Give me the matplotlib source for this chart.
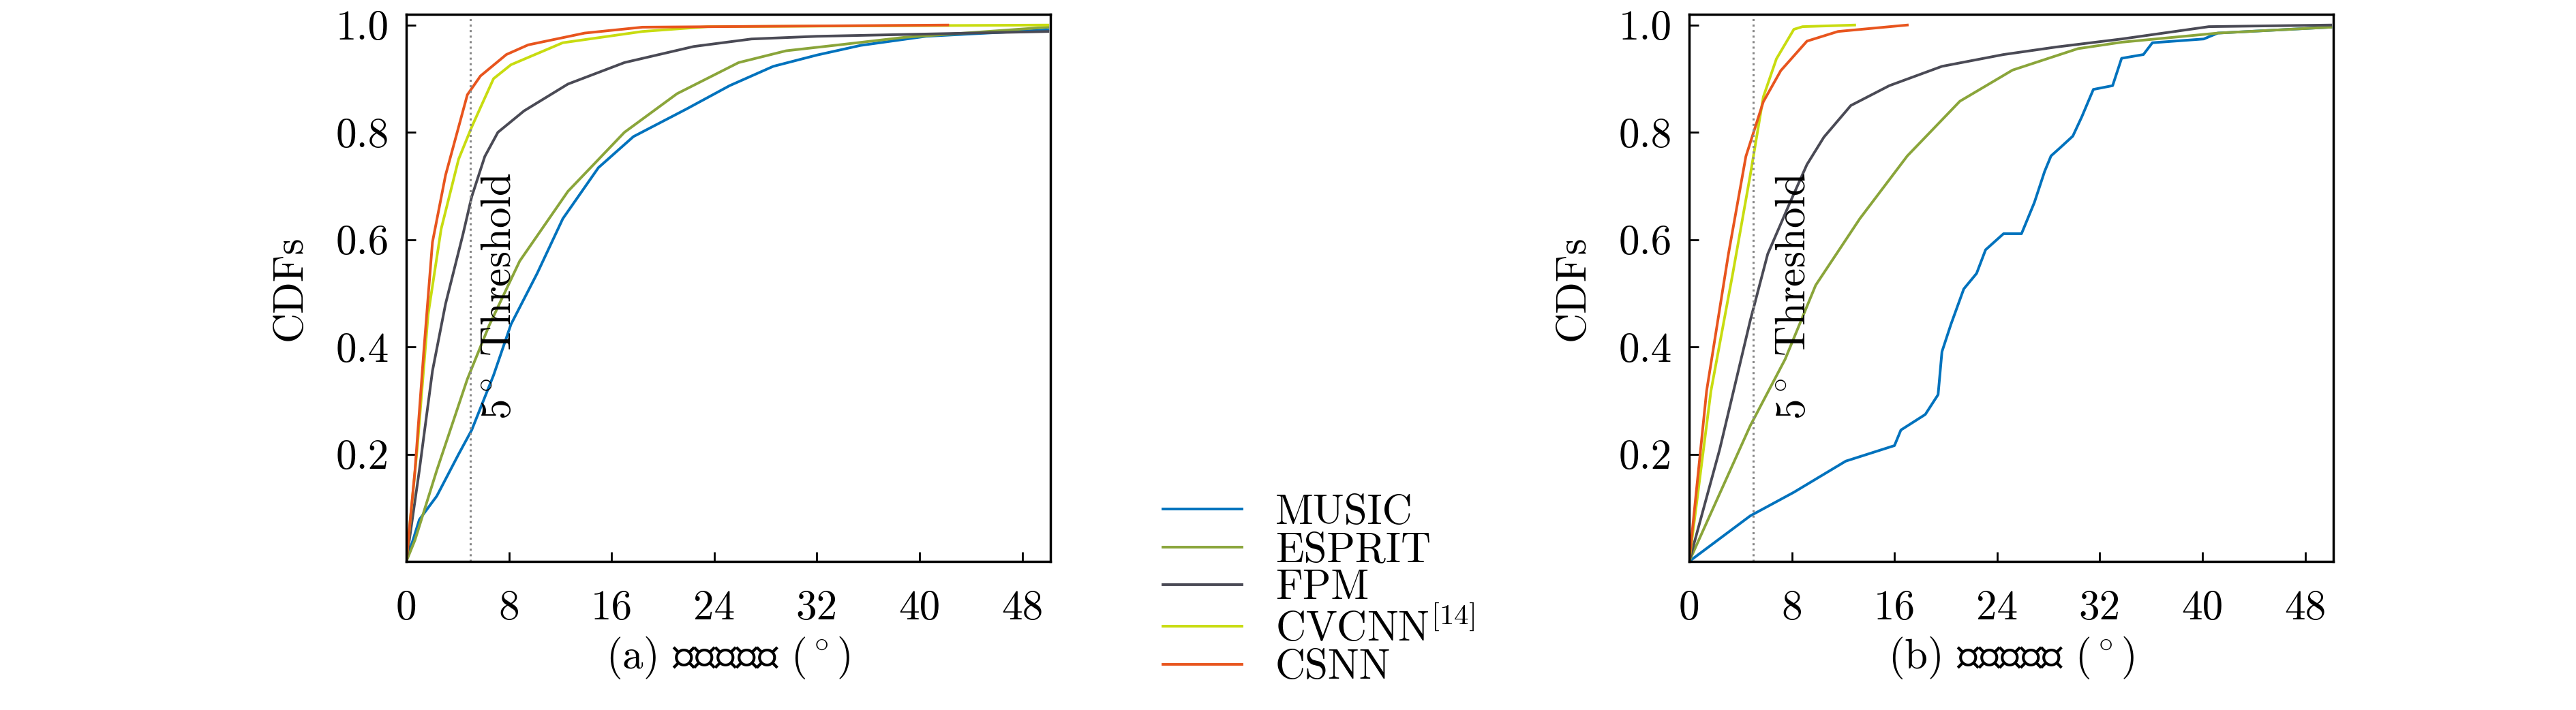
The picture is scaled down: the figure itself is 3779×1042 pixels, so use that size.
import matplotlib
matplotlib.use("Agg")
import matplotlib.pyplot as plt
import numpy as np

plt.rcParams['font.family'] = ['cmr10', 'Noto Sans CJK SC', 'DejaVu Sans']
plt.rcParams['mathtext.fontset'] = 'cm'
plt.rcParams['axes.formatter.use_mathtext'] = True

names = ['MUSIC', 'ESPRIT', 'FPM', r'CVCNN$^{[14]}$', 'CSNN']
colors = ['#0072BD', '#8AA53A', '#4A4A55', '#C8DC10', '#E8551E']
xticks = [0, 8, 16, 24, 32, 40, 48]
yticks = [0.2, 0.4, 0.6, 0.8, 1.0]

# Panel (a): azimuth error
a_music_x = [0, 1.02, 2.38, 4.08, 5.1, 6.8, 8.16, 10.2, 12.2, 14.97, 17.7, 21.8, 25.2, 28.6, 32, 35.4, 40.5, 50]
a_music_y = [0, .078, .122, .20, .245, .347, .442, .537, .639, .734, .792, .843, .887, .923, .944, .962, .979, .991]
a_esprit_x = [0, .68, 2.38, 4.76, 6.46, 8.84, 12.6, 17, 21.1, 25.9, 29.6, 33.7, 38.8, 50]
a_esprit_y = [0, .04, .17, .34, .44, .56, .69, .80, .872, .93, .952, .963, .977, .996]
a_fpm_x = [0, 1.02, 2.04, 3.06, 4.42, 5.1, 6.12, 7.14, 9.18, 12.6, 17, 22.4, 26.9, 32, 50]
a_fpm_y = [0, .17, .355, .48, .61, .68, .755, .80, .84, .89, .93, .96, .974, .979, .988]
a_cvcnn_x = [0, .85, 1.7, 2.72, 4.08, 5.1, 6.8, 8.16, 12.2, 18.4, 23.5, 50]
a_cvcnn_y = [0, .21, .46, .62, .75, .81, .90, .926, .967, .988, .997, 1.0]
a_csnn_x = [0, .68, 1.36, 2.04, 3.06, 4.76, 5.78, 7.8, 9.5, 13.9, 18.4, 42.2]
a_csnn_y = [0, .17, .39, .595, .72, .87, .905, .945, .963, .985, .996, 1.0]

# Panel (b): elevation error
b_music_x = [0, 4.76, 8.16, 12.2, 16.0, 16.5, 18.4, 19.4, 19.7, 20.4, 21.4, 22.4, 23.1, 24.5, 25.9, 26.9, 27.7, 28.2, 28.9, 29.9, 30.6, 31.5, 33.0, 33.7, 35.4, 36.1, 40.1, 41.2, 50]
b_music_y = [0, .085, .129, .187, .216, .245, .274, .311, .391, .442, .508, .537, .581, .611, .611, .669, .727, .756, .771, .793, .829, .88, .887, .938, .945, .967, .974, .985, .996]
b_esprit_x = [0, 4.76, 7.48, 9.86, 13.3, 17, 21.1, 25.2, 30.3, 33.7, 41.2, 50]
b_esprit_y = [0, .253, .377, .515, .639, .756, .858, .916, .956, .968, .985, .996]
b_fpm_x = [0, 2.38, 4.76, 6.12, 7.82, 9.18, 10.5, 12.6, 15.6, 19.7, 24.5, 28.6, 33.7, 40.5, 50]
b_fpm_y = [0, .209, .449, .573, .667, .74, .791, .85, .887, .923, .945, .959, .974, .997, 1.0]
b_cvcnn_x = [0, 1.7, 3.4, 4.76, 5.78, 6.8, 8.16, 8.84, 12.9]
b_cvcnn_y = [0, .318, .537, .72, .866, .937, .992, .997, 1.0]
b_csnn_x = [0, 1.36, 3.06, 4.42, 5.78, 7.14, 9.18, 11.6, 17]
b_csnn_y = [0, .318, .573, .755, .857, .915, .97, .988, 1.0]

panels = [
    ([(a_music_x, a_music_y), (a_esprit_x, a_esprit_y), (a_fpm_x, a_fpm_y),
      (a_cvcnn_x, a_cvcnn_y), (a_csnn_x, a_csnn_y)], r'(a) 方位角误差 ($^\circ$)', 7.3),
    ([(b_music_x, b_music_y), (b_esprit_x, b_esprit_y), (b_fpm_x, b_fpm_y),
      (b_cvcnn_x, b_cvcnn_y), (b_csnn_x, b_csnn_y)], r'(b) 俯仰角误差 ($^\circ$)', 8.2),
]

fig = plt.figure(figsize=(37.8, 10.42), dpi=100)
fig.patch.set_facecolor('white')
lefts = [596 / 3780, 2478 / 3780]
W = 945 / 3780
B = (1042 - 824) / 1042
H = (824 - 21) / 1042
fs = 44
handles = None
for (series, xlabel, tx), l in zip(panels, lefts):
    ax = fig.add_axes([l, B, W, H])
    hs = []
    for (x, y), c, n in zip(series, colors, names):
        h, = ax.plot(x, y, color=c, lw=2.8, label=n)
        hs.append(h)
    handles = hs
    ax.axvline(5, color='#888888', ls=':', lw=2.2)
    ax.text(tx, 0.495, r'$5^\circ$ Threshold', rotation=90, ha='center', va='center', fontsize=fs)
    ax.set_xlim(0, 50.2)
    ax.set_ylim(0, 1.02)
    ax.set_xticks(xticks)
    ax.set_xticklabels([str(t) for t in xticks])
    ax.set_yticks(yticks)
    ax.set_yticklabels(['0.2', '0.4', '0.6', '0.8', '1.0'])
    ax.tick_params(axis='x', labelsize=fs, direction='in', length=10, width=2, pad=30)
    ax.tick_params(axis='y', labelsize=fs, direction='in', length=10, width=2, pad=18)
    for s in ax.spines.values():
        s.set_linewidth(2.5)
    ax.set_ylabel('CDFs', fontsize=fs, labelpad=28)
    ax.set_xlabel(xlabel, fontsize=fs, labelpad=8)

fig.legend(handles=handles, labels=names, loc='upper left', bbox_to_anchor=(0.44, 0.345),
           frameon=False, fontsize=fs, handlelength=1.9, handletextpad=0.8, labelspacing=0.0,
           borderpad=0.2)
fig.savefig('out.png', dpi=100, facecolor='white')
